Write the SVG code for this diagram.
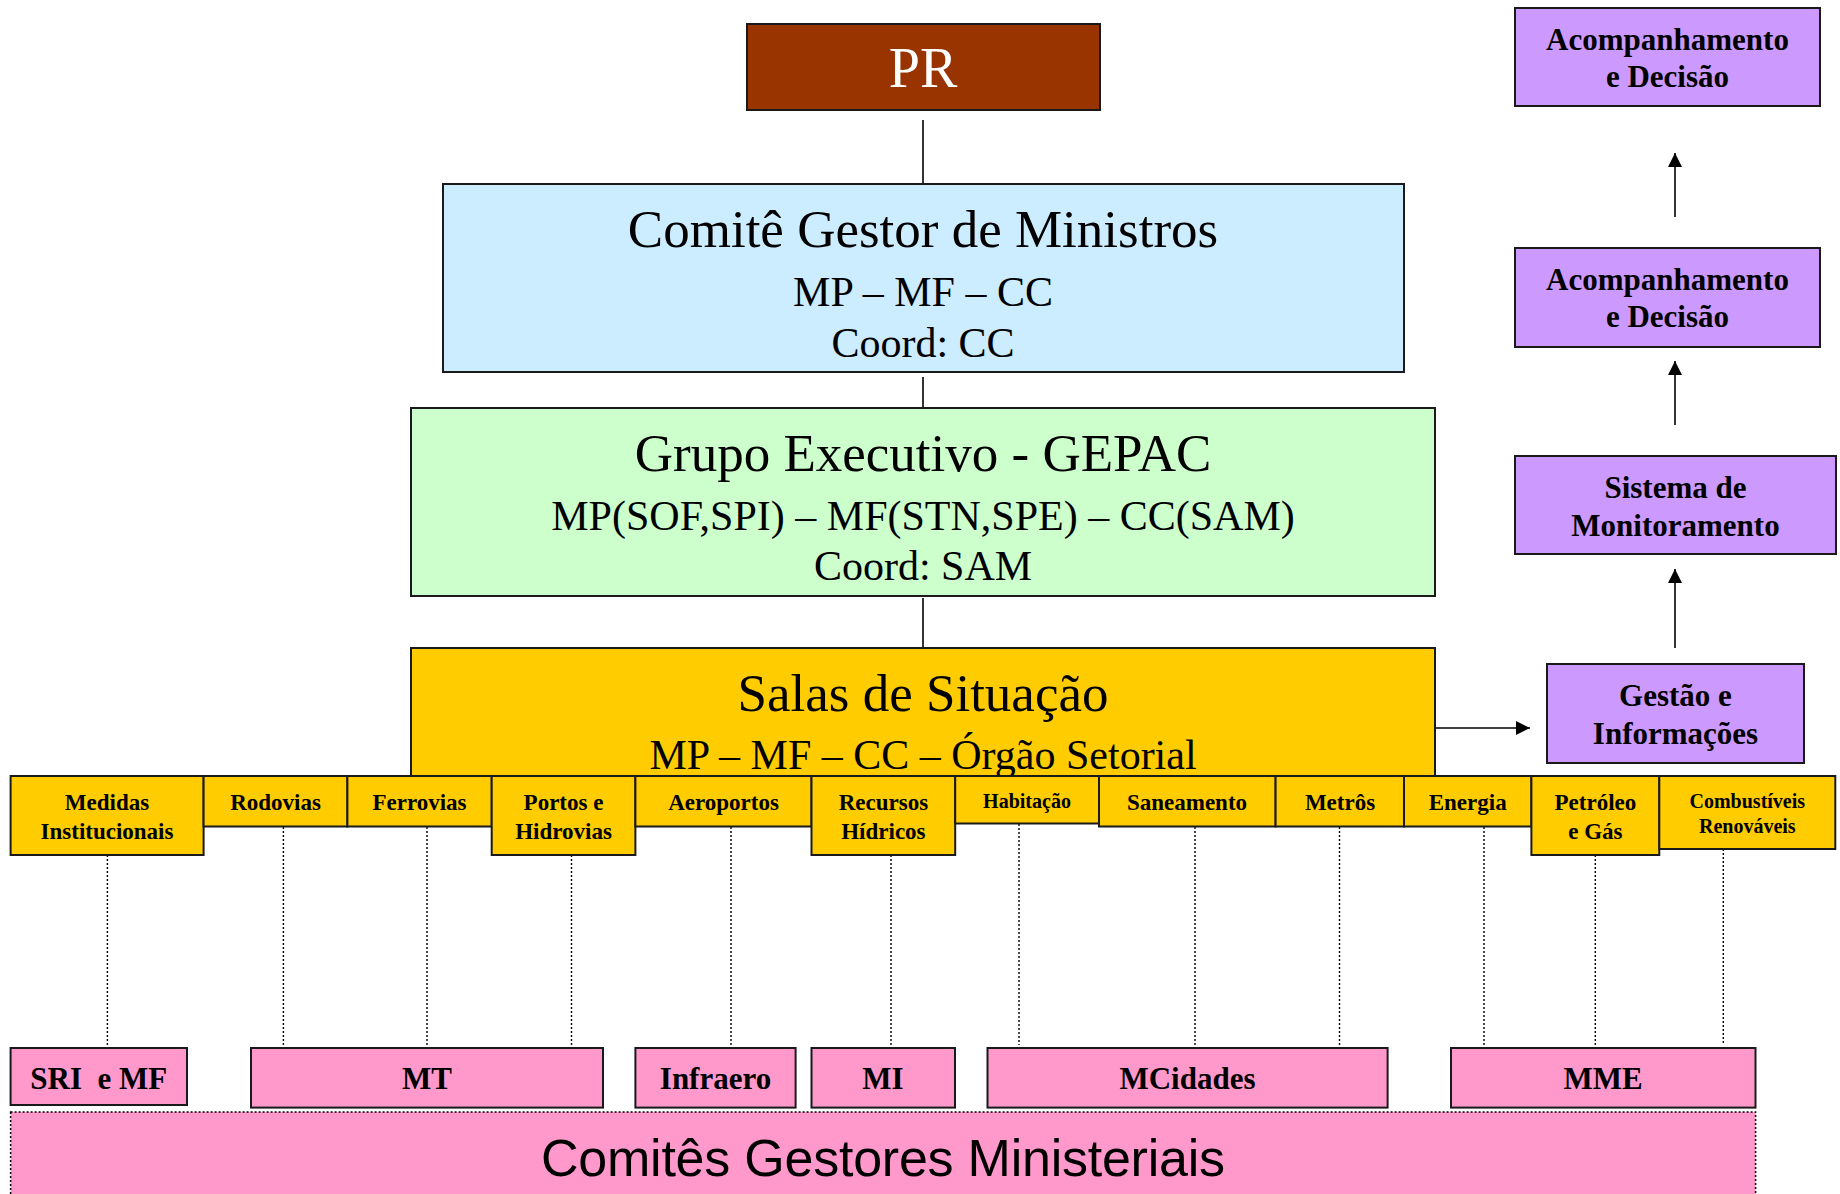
<svg xmlns="http://www.w3.org/2000/svg" width="1840" height="1194" viewBox="0 0 1840 1194">
<defs>
<marker id="ah" viewBox="0 0 10 10" refX="10" refY="5" markerUnits="userSpaceOnUse" markerWidth="16" markerHeight="14" orient="auto"><path d="M0,0 L10,5 L0,10 z" fill="#000"/></marker>
<style>
.box{stroke:#1a1a1a;stroke-width:2}
.ttl{font-family:"Liberation Serif","Times New Roman",serif;font-size:53px;text-anchor:middle;fill:#000}
.sub{font-family:"Liberation Serif","Times New Roman",serif;font-size:42px;text-anchor:middle;fill:#000}
.pb{font-family:"Liberation Serif","Times New Roman",serif;font-weight:bold;font-size:31px;text-anchor:middle;fill:#000}
.yb{font-family:"Liberation Serif","Times New Roman",serif;font-weight:bold;font-size:23px;text-anchor:middle;fill:#000}
.ys{font-family:"Liberation Serif","Times New Roman",serif;font-weight:bold;font-size:20px;text-anchor:middle;fill:#000}
.kb{font-family:"Liberation Serif","Times New Roman",serif;font-weight:bold;font-size:31px;text-anchor:middle;fill:#000;white-space:pre}
.yel{fill:#FFCC00}
.pur{fill:#CC99FF}
.pnk{fill:#FF99CC}
.ln{stroke:#000;stroke-width:1.6;fill:none}
.dot{stroke:#000;stroke-width:1.4;stroke-dasharray:2,2;fill:none}
</style>
</defs>

<g id="connectors">
<line class="ln" x1="923" y1="120" x2="923" y2="184"/>
<line class="ln" x1="923" y1="377" x2="923" y2="408"/>
<line class="ln" x1="923" y1="598" x2="923" y2="648"/>
<line class="ln" x1="1675" y1="217" x2="1675" y2="153" marker-end="url(#ah)"/>
<line class="ln" x1="1675" y1="425" x2="1675" y2="361" marker-end="url(#ah)"/>
<line class="ln" x1="1675" y1="648" x2="1675" y2="569" marker-end="url(#ah)"/>
<line class="ln" x1="1435" y1="728" x2="1530" y2="728" marker-end="url(#ah)"/>
<line class="dot" x1="107.4" y1="855" x2="107.4" y2="1045"/>
<line class="dot" x1="283.4" y1="827" x2="283.4" y2="1045"/>
<line class="dot" x1="427" y1="827" x2="427" y2="1045"/>
<line class="dot" x1="571.5" y1="855" x2="571.5" y2="1045"/>
<line class="dot" x1="731" y1="827" x2="731" y2="1045"/>
<line class="dot" x1="891" y1="855" x2="891" y2="1045"/>
<line class="dot" x1="1019" y1="824" x2="1019" y2="1045"/>
<line class="dot" x1="1195" y1="827" x2="1195" y2="1045"/>
<line class="dot" x1="1339.5" y1="827" x2="1339.5" y2="1045"/>
<line class="dot" x1="1484" y1="827" x2="1484" y2="1045"/>
<line class="dot" x1="1595.3" y1="855" x2="1595.3" y2="1045"/>
<line class="dot" x1="1723.3" y1="849" x2="1723.3" y2="1045"/>
</g>

<g id="pr">
<rect class="box" x="747" y="24" width="353" height="86" fill="#993300"/>
<text class="ttl" x="923" y="87" style="fill:#fff;font-size:56px">PR</text>
</g>

<g id="comite">
<rect class="box" x="443" y="184" width="961" height="188" fill="#CCECFF"/>
<text class="ttl" x="923" y="247">Comitê Gestor de Ministros</text>
<text class="sub" x="923" y="306">MP – MF – CC</text>
<text class="sub" x="923" y="357">Coord: CC</text>
</g>

<g id="gepac">
<rect class="box" x="411" y="408" width="1024" height="188" fill="#CCFFCC"/>
<text class="ttl" x="923" y="471">Grupo Executivo - GEPAC</text>
<text class="sub" x="923" y="530">MP(SOF,SPI) – MF(STN,SPE) – CC(SAM)</text>
<text class="sub" x="923" y="580">Coord: SAM</text>
</g>

<g id="salas">
<rect class="box yel" x="411" y="648" width="1024" height="130"/>
<text class="ttl" x="923" y="711">Salas de Situação</text>
<text class="sub" x="923" y="769">MP – MF – CC – Órgão Setorial</text>
</g>

<g id="acomp1">
<rect class="box pur" x="1515" y="8" width="305" height="98"/>
<text class="pb" x="1667.5" y="50">Acompanhamento</text>
<text class="pb" x="1667.5" y="87">e Decisão</text>
</g>
<g id="acomp2">
<rect class="box pur" x="1515" y="248" width="305" height="99"/>
<text class="pb" x="1667.5" y="290">Acompanhamento</text>
<text class="pb" x="1667.5" y="327">e Decisão</text>
</g>
<g id="sistema">
<rect class="box pur" x="1515" y="456" width="321" height="98"/>
<text class="pb" x="1675.5" y="497.5">Sistema de</text>
<text class="pb" x="1675.5" y="536">Monitoramento</text>
</g>
<g id="gestao">
<rect class="box pur" x="1547" y="664" width="257" height="99"/>
<text class="pb" x="1675.5" y="706">Gestão e</text>
<text class="pb" x="1675.5" y="744">Informações</text>
</g>

<g id="medidas"><rect class="box yel" x="10.6" y="776" width="193" height="79"/><text class="yb" x="107" y="809.5">Medidas</text><text class="yb" x="107" y="838.5">Institucionais</text></g>
<g id="rodovias"><rect class="box yel" x="203.6" y="776" width="143.8" height="50.5"/><text class="yb" x="275.5" y="809.5">Rodovias</text></g>
<g id="ferrovias"><rect class="box yel" x="347.4" y="776" width="144.3" height="50.5"/><text class="yb" x="419.5" y="809.5">Ferrovias</text></g>
<g id="portos"><rect class="box yel" x="491.7" y="776" width="143.7" height="79"/><text class="yb" x="563.5" y="809.5">Portos e</text><text class="yb" x="563.5" y="838.5">Hidrovias</text></g>
<g id="aeroportos"><rect class="box yel" x="635.4" y="776" width="176.1" height="50.5"/><text class="yb" x="723.5" y="809.5">Aeroportos</text></g>
<g id="recursos"><rect class="box yel" x="811.5" y="776" width="143.7" height="79"/><text class="yb" x="883.4" y="809.5">Recursos</text><text class="yb" x="883.4" y="838.5">Hídricos</text></g>
<g id="habitacao"><rect class="box yel" x="955.2" y="776" width="143.8" height="47.5"/><text class="ys" x="1027" y="807.5">Habitação</text></g>
<g id="saneamento"><rect class="box yel" x="1099" y="776" width="176.6" height="50.5"/><text class="yb" x="1187" y="809.5">Saneamento</text></g>
<g id="metros"><rect class="box yel" x="1275.6" y="776" width="128.4" height="50.5"/><text class="yb" x="1340" y="809.5">Metrôs</text></g>
<g id="energia"><rect class="box yel" x="1404" y="776" width="127.4" height="50.5"/><text class="yb" x="1467.7" y="809.5">Energia</text></g>
<g id="petroleo"><rect class="box yel" x="1531.4" y="776" width="127.9" height="79"/><text class="yb" x="1595.4" y="809.5">Petróleo</text><text class="yb" x="1595.4" y="838.5">e Gás</text></g>
<g id="combustiveis"><rect class="box yel" x="1659.3" y="776" width="176" height="73"/><text class="ys" x="1747.3" y="807.5">Combustíveis</text><text class="ys" x="1747.3" y="833">Renováveis</text></g>

<g id="comites">
<rect x="10.6" y="1112" width="1745" height="100" fill="#FF99CC" stroke="#000" stroke-width="1.5" stroke-dasharray="2,2"/>
<text x="883" y="1176" text-anchor="middle" font-family="'Liberation Sans', Arial, sans-serif" font-size="52" textLength="684" fill="#000">Comitês Gestores Ministeriais</text>
</g>

<g id="sri"><rect class="box pnk" x="10.6" y="1048" width="176.4" height="57"/><text class="kb" x="98.8" y="1089">SRI  e MF</text></g>
<g id="mt"><rect class="box pnk" x="251" y="1048" width="352" height="59.6"/><text class="kb" x="427" y="1089">MT</text></g>
<g id="infraero"><rect class="box pnk" x="635.4" y="1048" width="160.2" height="59.6"/><text class="kb" x="715.5" y="1089">Infraero</text></g>
<g id="mi"><rect class="box pnk" x="811.5" y="1048" width="143.5" height="59.6"/><text class="kb" x="883" y="1089">MI</text></g>
<g id="mcidades"><rect class="box pnk" x="987.5" y="1048" width="400.1" height="59.6"/><text class="kb" x="1187.5" y="1089">MCidades</text></g>
<g id="mme"><rect class="box pnk" x="1451" y="1048" width="304.5" height="59.6"/><text class="kb" x="1603" y="1089">MME</text></g>
</svg>
